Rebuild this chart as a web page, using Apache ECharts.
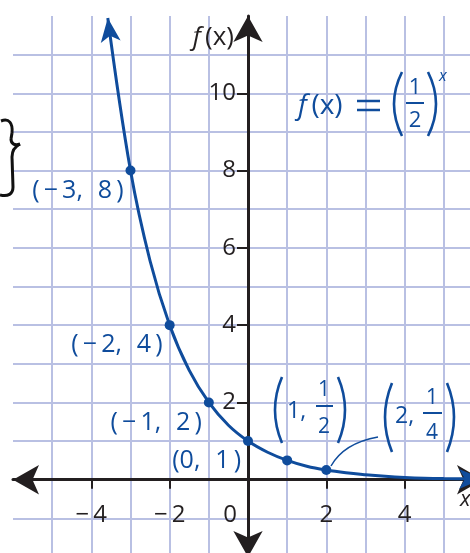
<!DOCTYPE html>
<html>
<head>
<meta charset="utf-8">
<script src="https://cdn.jsdelivr.net/npm/echarts@6/dist/echarts.min.js"></script>
<style>
  html, body { margin: 0; padding: 0; background: #fff; }
  #chart { width: 470px; height: 553px; }
</style>
</head>
<body>
<div id="chart"></div>
<script>
// curve f(x) = (1/2)^x
const curveX = [-3.58, -3, -2.5, -2, -1.5, -1, -0.5, 0, 0.5, 1, 1.5, 2, 2.5, 3, 3.5, 4, 4.5, 5, 6];
const curveY = [11.95, 8, 5.66, 4, 2.83, 2, 1.41, 1, 0.71, 0.5, 0.35, 0.25, 0.18, 0.13, 0.09, 0.06, 0.04, 0.03, 0.02];

// labelled points
const pointX = [-3, -2, -1, 0, 1, 2];
const pointY = [8, 4, 2, 1, 0.5, 0.25];
const pointLabels = [
  '(\u2009\u2212\u20093,\u2009\u2009 8\u2009)',
  '(\u2009\u2212\u20092,\u2009\u2009 4\u2009)',
  '(\u2009\u2212\u20091,\u2009\u2009 2\u2009)',
  '(0,\u2009\u2009 1\u2009)', '', ''
];

// tick labels
const xTickLabels = [-4, -2, 0, 2, 4];
const xTickMarks = [-4, -2, 2, 4];
const yTickLabels = [2, 4, 6, 8, 10];

const BLUE = '#0f4c9c';
const INK = '#231f20';
const GRID = '#b9c0e3';
const FONT = 'Open Sans';

// grid box: x from -6 to 6, y from -2 to 12
const GRID_LEFT = 13, GRID_TOP = 16, GRID_W = 470, GRID_H = 541;

const chart = echarts.init(document.getElementById('chart'));

const fmtNum = v => String(v).replace('-', '\u2212\u2009');

function txt(x, y, text, size, color, align) {
  return {
    type: 'text', x: x, y: y, z: 10,
    style: {
      text: text, fontSize: size, fontFamily: FONT, fill: color,
      align: align || 'center', verticalAlign: 'middle'
    }
  };
}
function curve(x1, y1, x2, y2, cx, cy, color, w, cx2, cy2) {
  const shape = { x1: x1, y1: y1, x2: x2, y2: y2, cpx1: cx, cpy1: cy };
  if (cx2 !== undefined) { shape.cpx2 = cx2; shape.cpy2 = cy2; }
  return {
    type: 'bezierCurve', z: 10, shape: shape,
    style: { stroke: color || BLUE, lineWidth: w || 2.6, fill: null }
  };
}
function seg(x1, y1, x2, y2, color, w) {
  return {
    type: 'line', z: 10,
    shape: { x1: x1, y1: y1, x2: x2, y2: y2 },
    style: { stroke: color || BLUE, lineWidth: w || 2 }
  };
}
function italicText(x, y, a, b, size, color, align) {
  return {
    type: 'text', x: x, y: y, z: 10,
    style: {
      text: '{i|' + a + '}' + (b ? '{n|' + b + '}' : ''),
      fontSize: size, fontFamily: FONT, fill: color,
      align: align || 'left', verticalAlign: 'middle',
      rich: {
        i: { fontSize: size, fontFamily: FONT, fontStyle: 'italic', fill: color },
        n: { fontSize: size, fontFamily: FONT, fill: color }
      }
    }
  };
}

const curveData = curveX.map((x, i) => [x, curveY[i]]);
curveData[0] = { value: curveData[0], symbol: 'arrow', symbolSize: [15, 24], symbolRotate: 7 };
curveData[curveData.length - 1] = {
  value: curveData[curveData.length - 1], symbol: 'arrow', symbolSize: [15, 24], symbolRotate: -90
};

// axes cross at (0, 0): shift them in from the grid edges
const xAxisOffset = -GRID_H * (0 - (-2)) / (12 - (-2));
const yAxisOffset = -GRID_W * (0 - (-6)) / (6 - (-6));

chart.setOption({
  animation: false,
  grid: {
    left: GRID_LEFT, top: GRID_TOP, width: GRID_W, height: GRID_H,
    containLabel: false, outerBoundsMode: 'none'
  },
  xAxis: {
    type: 'value', min: -6, max: 6, interval: 2,
    position: 'bottom', offset: xAxisOffset,
    axisLine: {
      onZero: false, symbol: ['arrow', 'arrow'], symbolSize: [22, 26],
      lineStyle: { color: INK, width: 3 }
    },
    axisTick: { show: true, length: 9, customValues: xTickMarks, lineStyle: { color: INK, width: 2 } },
    axisLabel: {
      customValues: xTickLabels, margin: 23,
      fontSize: 24, fontFamily: FONT, color: INK,
      formatter: v => v === 0 ? '{z|0}' : fmtNum(v),
      rich: { z: { fontSize: 24, fontFamily: FONT, color: INK, padding: [0, 36, 0, 0] } }
    },
    splitLine: { show: true, lineStyle: { color: GRID, width: 2 } },
    minorTick: { show: false, splitNumber: 2 },
    minorSplitLine: { show: true, lineStyle: { color: GRID, width: 2 } }
  },
  yAxis: {
    type: 'value', min: -2, max: 12, interval: 2,
    position: 'left', offset: yAxisOffset,
    axisLine: {
      onZero: false, symbol: ['arrow', 'arrow'], symbolSize: [22, 26],
      lineStyle: { color: INK, width: 3 }
    },
    axisTick: { show: true, length: 11, customValues: yTickLabels, lineStyle: { color: INK, width: 2 } },
    axisLabel: {
      customValues: yTickLabels, margin: 12,
      fontSize: 24, fontFamily: FONT, color: INK, formatter: fmtNum
    },
    splitLine: { show: true, lineStyle: { color: GRID, width: 2 } },
    minorTick: { show: false, splitNumber: 2 },
    minorSplitLine: { show: true, lineStyle: { color: GRID, width: 2 } }
  },
  series: [
    {
      type: 'line', data: curveData, smooth: 0.4,
      symbol: 'none', z: 5,
      lineStyle: { color: BLUE, width: 3 },
      itemStyle: { color: BLUE }
    },
    {
      type: 'scatter', z: 6, symbolSize: 10,
      data: pointX.map((x, i) => [x, pointY[i]]),
      itemStyle: { color: BLUE, opacity: 1 },
      label: {
        show: true, position: [-2, 25], align: 'right', verticalAlign: 'middle',
        fontSize: 25, fontFamily: FONT, color: BLUE,
        formatter: p => pointLabels[p.dataIndex]
      }
    }
  ],
  graphic: [
    // hand drawn brace on the left
    curve(1, 121, 12, 133, 9, 118, '#111', 3, 13, 123),
    seg(12, 133, 11, 139, '#111', 3),
    curve(11, 139, 20, 144, 11, 144, '#111', 3, 15, 146),
    curve(20, 144, 12, 157, 14, 147, '#111', 3, 12, 151),
    seg(12, 157, 13, 187, '#111', 3),
    curve(13, 187, 0, 195, 13, 194, '#111', 3, 8, 197),
    // axis names
    italicText(234, 38, 'f\u2009', '(x)', 26, INK, 'right'),
    italicText(460, 500, 'x', '', 22, INK, 'left'),
    // equation
    italicText(298, 106, 'f\u2009', '(x)', 28, BLUE, 'left'),
    seg(357, 101, 380, 101, BLUE, 2.5),
    seg(357, 110, 380, 110, BLUE, 2.5),
    curve(402, 72, 402, 136, 386, 104),
    curve(428, 72, 428, 136, 444, 104),
    txt(415, 88, '1', 22, BLUE),
    seg(406, 103, 424, 103),
    txt(415, 121, '2', 22, BLUE),
    italicText(439, 76, 'x', '', 16, BLUE, 'left'),
    // (1, 1/2)
    curve(282, 377, 282, 443, 268, 410),
    curve(338, 377, 338, 443, 352, 410),
    txt(287, 411, '1,', 23, BLUE, 'left'),
    txt(324, 390, '1', 21, BLUE),
    seg(316, 406, 333, 406),
    txt(324, 427, '2', 21, BLUE),
    // (2, 1/4)
    curve(392, 383, 392, 452, 378, 417),
    curve(447, 383, 447, 452, 461, 417),
    txt(395, 416, '2,', 23, BLUE, 'left'),
    txt(432, 398, '1', 21, BLUE),
    seg(423, 413, 442, 413),
    txt(432, 433, '4', 21, BLUE),
    // leader line to (2, 1/4)
    curve(331, 466, 378, 437, 344, 443, BLUE, 1.5)
  ]
});
</script>
</body>
</html>
